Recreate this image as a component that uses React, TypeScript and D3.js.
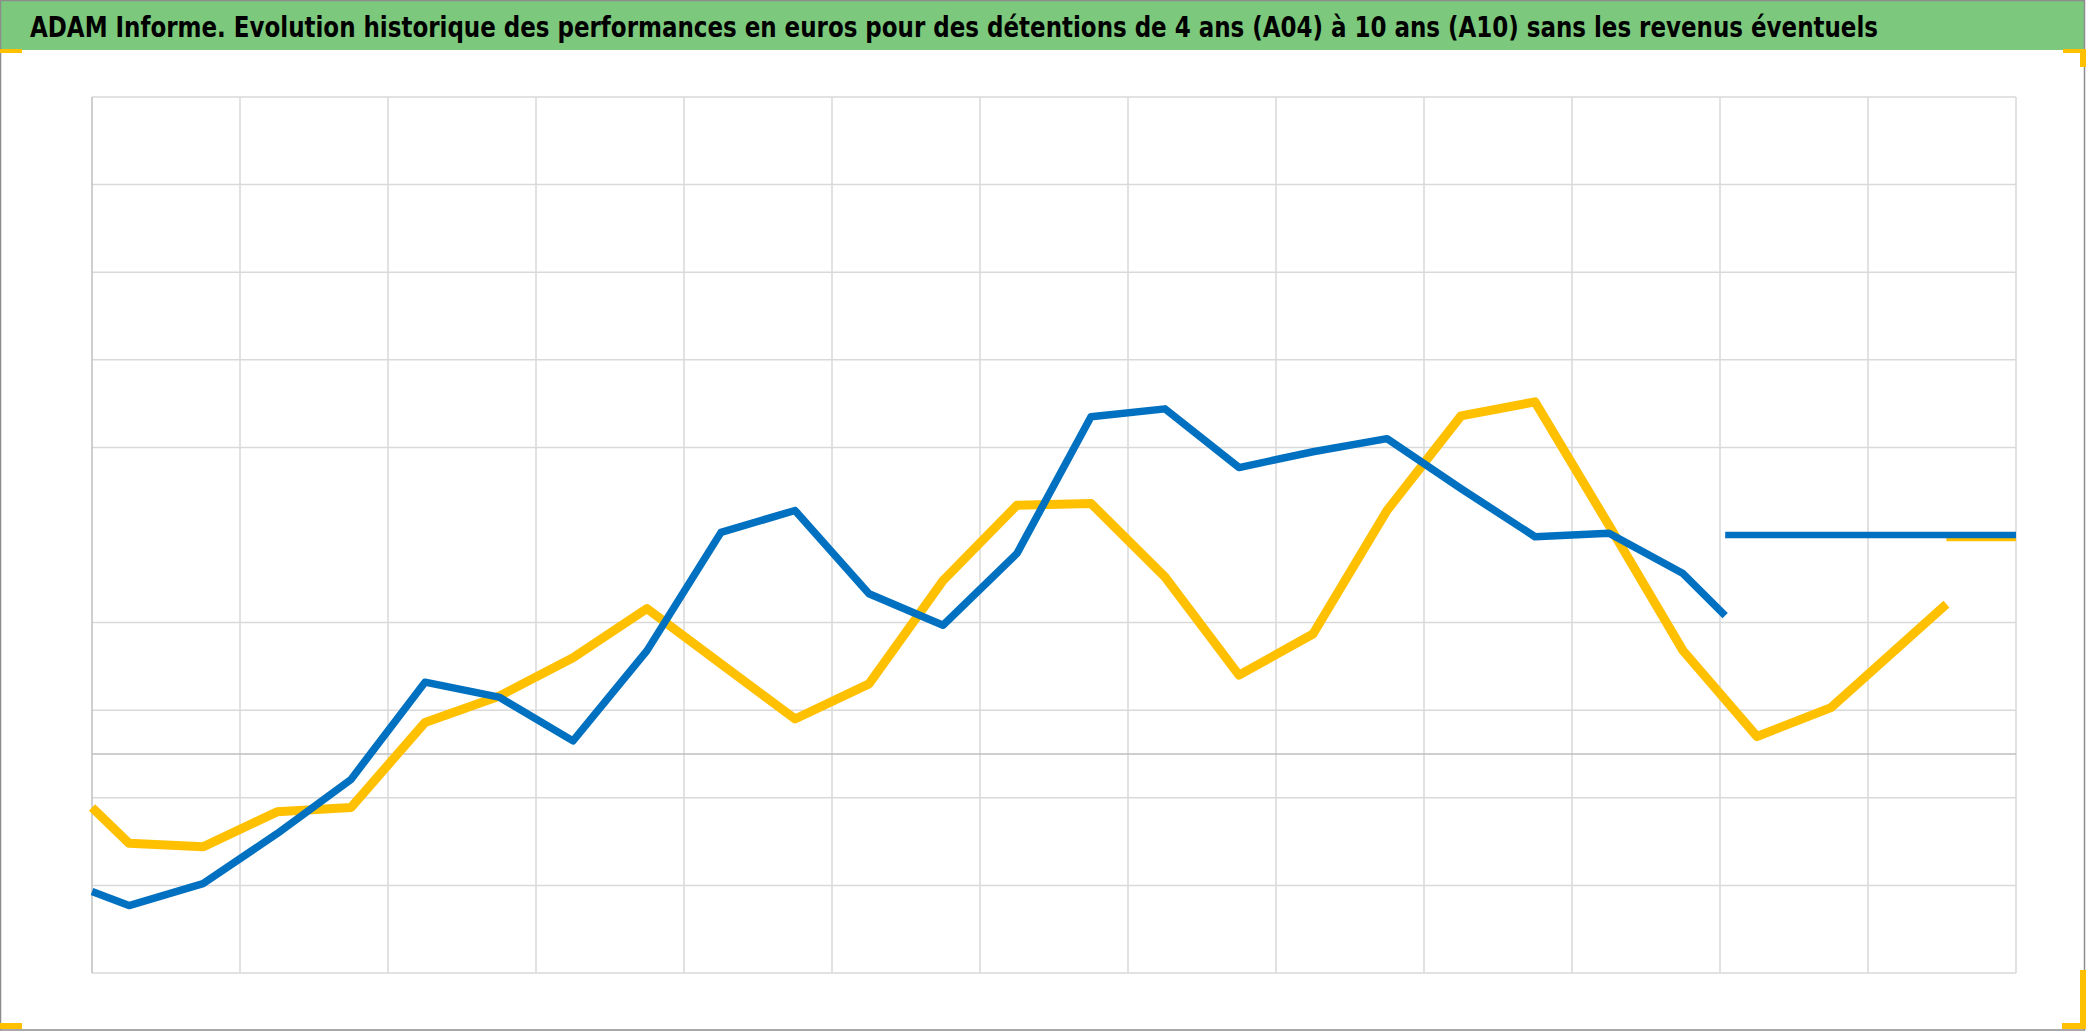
import React from 'react';
import * as d3 from 'd3';

const W = 2086;
const H = 1031;

const titleText =
  'ADAM Informe. Evolution historique des performances en euros pour des détentions de 4 ans (A04) à 10 ans (A10) sans les revenus éventuels';

// x positions (in half-grid units, 2 units per vertical grid column)
const bluePeriods = [0, 0.5, 1.5, 2.5, 3.5, 4.5, 5.5, 6.5, 7.5, 8.5, 9.5, 10.5, 11.5, 12.5, 13.5, 14.5, 15.5, 16.5, 17.5, 18.5, 19.5, 20.5, 21.5, 22.07];
const blueValues = [-1.57, -1.73, -1.48, -0.91, -0.29, 0.82, 0.65, 0.15, 1.18, 2.53, 2.78, 1.83, 1.47, 2.29, 3.85, 3.94, 3.27, 3.45, 3.6, 3.03, 2.48, 2.52, 2.06, 1.58];

const yellowPeriods = [0, 0.5, 1.5, 2.5, 3.5, 4.5, 5.5, 6.5, 7.5, 8.5, 9.5, 10.5, 11.5, 12.5, 13.5, 14.5, 15.5, 16.5, 17.5, 18.5, 19.5, 20.5, 21.5, 22.5, 23.5, 25.06];
const yellowValues = [-0.61, -1.02, -1.06, -0.66, -0.61, 0.36, 0.66, 1.1, 1.66, 1.03, 0.4, 0.8, 1.98, 2.84, 2.86, 2.02, 0.9, 1.37, 2.78, 3.86, 4.02, 2.61, 1.18, 0.2, 0.53, 1.71];

const blueFlatPeriods = [22.07, 26];
const blueFlatValues = [2.5, 2.5];
const yellowFlatPeriods = [25.06, 26];
const yellowFlatValues = [2.48, 2.48];

const xGridTicks = d3.range(0, 27, 2);
const yGridTicks = [-2.5, -1.5, -0.5, 0.5, 1.5, 3.5, 4.5, 5.5, 6.5, 7.5];
const xDomain: [number, number] = [0, 26];
const yDomain: [number, number] = [-2.5, 7.5];

const BLUE = '#0070C0';
const YELLOW = '#FFC000';

export default function App() {
  const x = d3.scaleLinear().domain(xDomain).range([92, 2016]);
  const y = d3.scaleLinear().domain(yDomain).range([973, 97]);

  const line = d3
    .line<[number, number]>()
    .x((d) => x(d[0]))
    .y((d) => y(d[1]));

  const zip = (a: number[], b: number[]) => a.map((v, i) => [v, b[i]] as [number, number]);

  return (
    <svg
      width={W}
      height={H}
      style={{ position: 'absolute', left: 0, top: 0, display: 'block', background: '#fff' }}
    >
      <rect x={0} y={0} width={W} height={H} fill="#ffffff" />
      {/* title bar */}
      <rect x={0} y={0} width={2084} height={50} fill="#7cc87c" />
      <g transform="translate(30,37) scale(1,1.3)">
        <text
          x={0}
          y={0}
          fontFamily="'DejaVu Sans Condensed', 'Liberation Sans Narrow', sans-serif"
          fontWeight="bold"
          fontSize={22}
          fill="#000"
          textLength={1848}
          lengthAdjust="spacingAndGlyphs"
        >
          {titleText}
        </text>
      </g>

      {/* grid */}
      {yGridTicks.map((t) => (
        <line key={'h' + t} x1={x(0)} x2={x(26)} y1={y(t)} y2={y(t)} stroke="#d9d9d9" strokeWidth={1.5} />
      ))}
      {xGridTicks.map((t) => (
        <line
          key={'v' + t}
          x1={x(t)}
          x2={x(t)}
          y1={y(7.5)}
          y2={y(-2.5)}
          stroke={t === 0 ? '#bfbfbf' : '#d9d9d9'}
          strokeWidth={1.5}
        />
      ))}
      <line x1={x(0)} x2={x(26)} y1={y(0)} y2={y(0)} stroke="#bfbfbf" strokeWidth={1.5} />

      {/* series */}
      <path d={line(zip(yellowPeriods, yellowValues)) || ''} fill="none" stroke={YELLOW} strokeWidth={9} strokeLinejoin="round" />
      <path d={line(zip(yellowFlatPeriods, yellowFlatValues)) || ''} fill="none" stroke={YELLOW} strokeWidth={9} />
      <path d={line(zip(bluePeriods, blueValues)) || ''} fill="none" stroke={BLUE} strokeWidth={7.5} strokeLinejoin="round" />
      <path d={line(zip(blueFlatPeriods, blueFlatValues)) || ''} fill="none" stroke={BLUE} strokeWidth={6.5} />

      {/* outer border */}
      <rect x={0.5} y={0.5} width={2084} height={1029.5} fill="none" stroke="#8c8c8c" strokeWidth={1.5} />

      {/* selection handles */}
      <rect x={0} y={49} width={22} height={4} fill={YELLOW} />
      <rect x={2063} y={49} width={23} height={4} fill={YELLOW} />
      <rect x={2080} y={49} width={6} height={18} fill={YELLOW} />
      <rect x={0} y={1023} width={22} height={6} fill={YELLOW} />
      <rect x={2080} y={970} width={6} height={59} fill={YELLOW} />
      <rect x={2062} y={1023} width={24} height={6} fill={YELLOW} />
    </svg>
  );
}
